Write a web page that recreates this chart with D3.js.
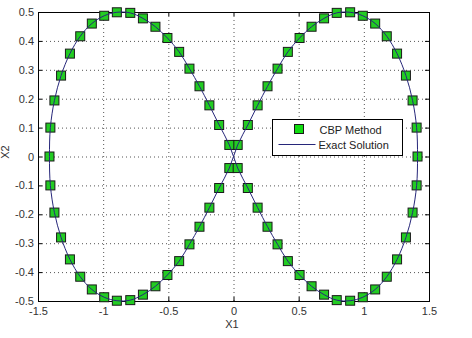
<!DOCTYPE html>
<html>
<head>
<meta charset="utf-8">
<script src="https://cdn.jsdelivr.net/npm/d3@7"></script>
<style>
  body { margin: 0; background: #fff; }
  text { font-family: "Liberation Sans", Arial, sans-serif; }
</style>
</head>
<body>
<div id="chart"></div>
<script>
const width = 472;
const height = 338;
const margin = { top: 12, right: 43, bottom: 37, left: 38 };

// CBP method points, in the order the curve is traced
const rightUpperX = [1.412, 1.405, 1.374, 1.323, 1.255, 1.176, 1.087, 0.992, 0.895, 0.792, 0.695, 0.599, 0.507, 0.417, 0.338, 0.261, 0.185, 0.110, 0.032];
const rightUpperY = [0, 0.100, 0.194, 0.280, 0.356, 0.416, 0.460, 0.487, 0.499, 0.497, 0.478, 0.449, 0.410, 0.362, 0.304, 0.243, 0.177, 0.109, 0.040];
const leftLowerX = [-0.032, -0.110, -0.185, -0.261, -0.338, -0.417, -0.507, -0.599, -0.695, -0.792, -0.895, -0.992, -1.087, -1.176, -1.255, -1.323, -1.374, -1.405, -1.412];
const leftLowerY = [-0.040, -0.109, -0.177, -0.243, -0.304, -0.362, -0.410, -0.449, -0.478, -0.497, -0.499, -0.487, -0.460, -0.416, -0.356, -0.280, -0.194, -0.100, 0];
const leftUpperX = [-1.405, -1.374, -1.323, -1.255, -1.176, -1.087, -0.992, -0.895, -0.792, -0.695, -0.599, -0.507, -0.417, -0.338, -0.261, -0.185, -0.110, -0.032];
const leftUpperY = [0.100, 0.194, 0.280, 0.356, 0.416, 0.460, 0.487, 0.499, 0.497, 0.478, 0.449, 0.410, 0.362, 0.304, 0.243, 0.177, 0.109, 0.040];
const rightLowerX = [0.032, 0.110, 0.185, 0.261, 0.338, 0.417, 0.507, 0.599, 0.695, 0.792, 0.895, 0.992, 1.087, 1.176, 1.255, 1.323, 1.374, 1.405];
const rightLowerY = [-0.040, -0.109, -0.177, -0.243, -0.304, -0.362, -0.410, -0.449, -0.478, -0.497, -0.499, -0.487, -0.460, -0.416, -0.356, -0.280, -0.194, -0.100];

const xTicks = [-1.5, -1, -0.5, 0, 0.5, 1, 1.5];
const xTickLabels = ["-1.5", "-1", "-0.5", "0", "0.5", "1", "1.5"];
const yTicks = [-0.5, -0.4, -0.3, -0.2, -0.1, 0, 0.1, 0.2, 0.3, 0.4, 0.5];
const yTickLabels = ["-0.5", "-0.4", "-0.3", "-0.2", "-0.1", "0", "0.1", "0.2", "0.3", "0.4", "0.5"];
const legendLabels = ["CBP Method", "Exact Solution"];

const allX = rightUpperX.concat(leftLowerX, leftUpperX, rightLowerX);
const allY = rightUpperY.concat(leftLowerY, leftUpperY, rightLowerY);
const points = allX.map((x, i) => ({ x: x, y: allY[i] }));

const innerW = width - margin.left - margin.right;
const innerH = height - margin.top - margin.bottom;

const svg = d3.select("#chart")
    .append("svg")
    .attr("width", width)
    .attr("height", height);

const g = svg.append("g")
    .attr("transform", `translate(${margin.left},${margin.top})`);

const xScale = d3.scaleLinear().domain([-1.5, 1.5]).range([0, innerW]);
const yScale = d3.scaleLinear().domain([-0.5, 0.5]).range([innerH, 0]);

g.append("rect")
    .attr("width", innerW)
    .attr("height", innerH)
    .attr("fill", "#fff");

// dotted grid
g.selectAll(".gx")
    .data(xTicks.slice(1, -1))
    .enter().append("line")
    .attr("x1", d => xScale(d) + 0.5)
    .attr("x2", d => xScale(d) + 0.5)
    .attr("y1", 0)
    .attr("y2", innerH)
    .attr("stroke", "#555")
    .attr("stroke-width", 1)
    .attr("stroke-dasharray", "1 3");

g.selectAll(".gy")
    .data(yTicks.slice(1, -1))
    .enter().append("line")
    .attr("x1", 0)
    .attr("x2", innerW)
    .attr("y1", d => yScale(d) + 0.5)
    .attr("y2", d => yScale(d) + 0.5)
    .attr("stroke", "#555")
    .attr("stroke-width", 1)
    .attr("stroke-dasharray", "1 3");

// axes, ticks pointing inward like matlab
const xAxis = d3.axisBottom(xScale)
    .tickValues(xTicks)
    .tickFormat((d, i) => xTickLabels[i])
    .tickSizeInner(-4).tickSizeOuter(0).tickPadding(6);
const yAxis = d3.axisLeft(yScale)
    .tickValues(yTicks)
    .tickFormat((d, i) => yTickLabels[i])
    .tickSizeInner(-4).tickSizeOuter(0).tickPadding(4);

g.append("g").attr("transform", `translate(0,${innerH})`).call(xAxis);
g.append("g").call(yAxis);
g.append("g").call(d3.axisTop(xScale).tickValues(xTicks).tickFormat("").tickSizeInner(-4).tickSizeOuter(0));
g.append("g").attr("transform", `translate(${innerW},0)`)
    .call(d3.axisRight(yScale).tickValues(yTicks).tickFormat("").tickSizeInner(-4).tickSizeOuter(0));

g.selectAll(".domain").remove();
g.selectAll(".tick line").attr("stroke", "#000");
g.selectAll(".tick text")
    .attr("font-size", 11)
    .attr("fill", "#333");

g.append("rect")
    .attr("x", 0.5).attr("y", 0.5)
    .attr("width", innerW).attr("height", innerH)
    .attr("fill", "none")
    .attr("stroke", "#000")
    .attr("stroke-width", 1);

// markers
const sq = 9;
g.selectAll(".cbp")
    .data(points)
    .enter().append("rect")
    .attr("class", "cbp")
    .attr("x", d => xScale(d.x) - sq / 2)
    .attr("y", d => yScale(d.y) - sq / 2)
    .attr("width", sq)
    .attr("height", sq)
    .attr("fill", "#22cc22")
    .attr("stroke", "#1a1a1a")
    .attr("stroke-width", 1);

// exact solution curve drawn over the markers
const line = d3.line()
    .x(d => xScale(d.x))
    .y(d => yScale(d.y))
    .curve(d3.curveCatmullRomClosed.alpha(0.5));

g.append("path")
    .datum(points)
    .attr("d", line)
    .attr("fill", "none")
    .attr("stroke", "#27277a")
    .attr("stroke-width", 1);

// axis titles
svg.append("text")
    .attr("x", 232)
    .attr("y", 328)
    .attr("text-anchor", "middle")
    .attr("font-size", 11)
    .attr("fill", "#333")
    .text("X1");

svg.append("text")
    .attr("transform", "translate(9,152) rotate(-90)")
    .attr("text-anchor", "middle")
    .attr("font-size", 11)
    .attr("fill", "#333")
    .text("X2");

// legend
const legend = svg.append("g").attr("transform", "translate(272.5,119.5)");
legend.append("rect")
    .attr("width", 130)
    .attr("height", 36)
    .attr("fill", "#fff")
    .attr("stroke", "#000")
    .attr("stroke-width", 1);
legend.append("rect")
    .attr("x", 22).attr("y", 5)
    .attr("width", 9).attr("height", 9)
    .attr("fill", "#11dd11")
    .attr("stroke", "#1a1a1a");
legend.append("line")
    .attr("x1", 6).attr("x2", 43)
    .attr("y1", 25).attr("y2", 25)
    .attr("stroke", "#27277a")
    .attr("stroke-width", 1);
legend.selectAll(".lt")
    .data(legendLabels)
    .enter().append("text")
    .attr("x", (d, i) => i === 0 ? 47 : 46)
    .attr("y", (d, i) => 14 + i * 15)
    .attr("font-size", 11)
    .attr("fill", "#222")
    .text(d => d);
</script>
</body>
</html>
